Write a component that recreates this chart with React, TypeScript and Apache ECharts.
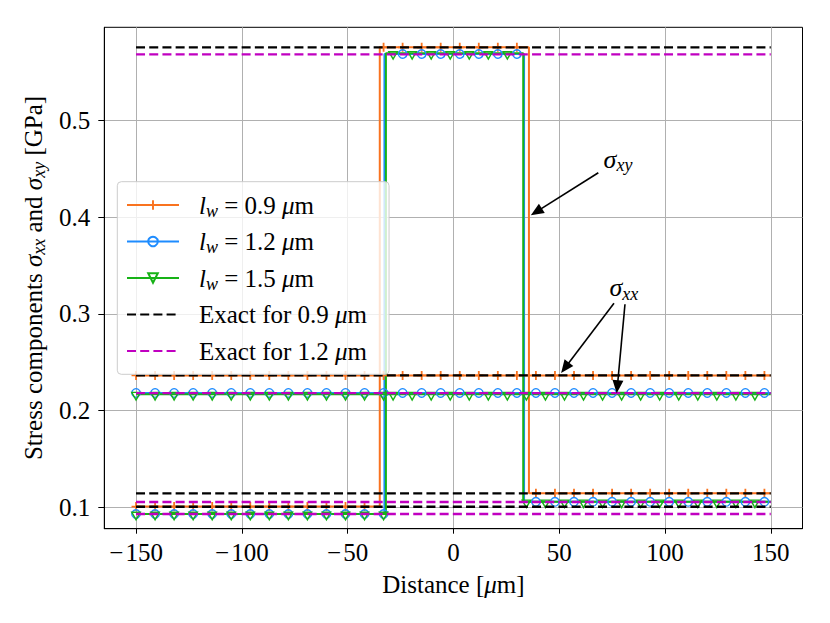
import React, { useEffect, useRef } from "react";
import * as echarts from "echarts";

// ---------- data ----------
const xTicks = [-150, -100, -50, 0, 50, 100, 150];
const yTicks = [0.1, 0.2, 0.3, 0.4, 0.5];
const xExtent = [-165, 165];
const yExtent = [0.0779, 0.5964];
const dataStart = -150;
const dataEnd = 150;

// x positions where markers are drawn (every 9th sample of the solution grid)
const markerX = [
  -150, -141, -132, -123, -114, -105, -96, -87, -78, -69, -60, -51, -42, -33,
  -24, -15, -6, 3, 12, 21, 30, 39, 48, 57, 66, 75, 84, 93, 102, 111, 120, 129,
  138, 147,
];
const greenMarkerX = [
  -150, -141, -132, -123, -114, -105, -96, -87, -78, -69, -60, -51, -42, -33,
  -28.5, -19.5, -10.5, -1.5, 7.5, 16.5, 25.5, 34.5, 43.5, 52.5, 61.5, 70.5,
  79.5, 88.5, 97.5, 106.5, 115.5, 124.5, 133.5, 142.5,
];

// sigma_xx (constant along the distance)
const sxx09 = 0.2364;
const sxx12 = 0.2183;
const sxx15 = 0.217;

// sigma_xy: [left level, middle level, right level] and the two jump positions
const sxy09 = [0.1008, 0.5757, 0.1145];
const sxy12 = [0.0931, 0.5688, 0.1057];
const sxy15 = [0.0931, 0.5695, 0.1057];
const jump09 = [-34.8, 35.7];
const jump12 = [-32.6, 33.4];
const jump15 = [-31.9, 33.0];

// exact solutions (horizontal dashed levels)
const exact09 = [0.5757, 0.2364, 0.1145, 0.1006];
const exact12 = [0.5685, 0.218, 0.1055, 0.0931];

// annotations: [tail x, tail y] -> [tip x, tip y]
const arrowTails = [
  [68.5, 0.446],
  [75.9, 0.311],
  [81.1, 0.31],
];
const arrowTips = [
  [36.6, 0.402],
  [50.9, 0.239],
  [77.2, 0.218],
];
const annotationText = ["xy", "xx"];
const annotationPos = [
  [71.0, 0.46],
  [73.8, 0.327],
];

const legendNames = ["lw09", "lw12", "lw15", "ex09", "ex12"];
const legendLabels: Record<string, string> = {
  lw09: "{i|l}{s|w} = 0.9 {i|μ}m",
  lw12: "{i|l}{s|w} = 1.2 {i|μ}m",
  lw15: "{i|l}{s|w} = 1.5 {i|μ}m",
  ex09: "Exact for 0.9 {i|μ}m",
  ex12: "Exact for 1.2 {i|μ}m",
};

// ---------- styling ----------
const FONT = "'Liberation Serif', 'Times New Roman', serif";
const FS = 25;
const LH = 29;
const ORANGE = "#F9731F";
const BLUE = "#1E8CFF";
const GREEN = "#17B217";
const MAGENTA = "#C000C0";
const BLACK = "#000000";
const PLUS = "path://M8,0H12V8H20V12H12V20H8V12H0V8H8Z";
const TRI_DOWN = "path://M0,0L20,0L10,17Z";

type Pt = { value: number[]; symbol?: string };

function flatLine(level: number, xs: number[]): Pt[] {
  const pts: Pt[] = xs.map((x) => ({ value: [x, level] }));
  pts.push({ value: [dataEnd, level], symbol: "none" });
  return pts;
}

function stepLine(levels: number[], jumps: number[], xs: number[]): Pt[] {
  const [lo, mid, ro] = levels;
  const [a, b] = jumps;
  const pts: Pt[] = [];
  if (xs[0] > dataStart) pts.push({ value: [dataStart, lo], symbol: "none" });
  xs.filter((x) => x < a).forEach((x) => pts.push({ value: [x, lo] }));
  pts.push({ value: [a, lo], symbol: "none" }, { value: [a, mid], symbol: "none" });
  xs.filter((x) => x >= a && x <= b).forEach((x) => pts.push({ value: [x, mid] }));
  pts.push({ value: [b, mid], symbol: "none" }, { value: [b, ro], symbol: "none" });
  xs.filter((x) => x > b).forEach((x) => pts.push({ value: [x, ro] }));
  pts.push({ value: [dataEnd, ro], symbol: "none" });
  return pts;
}

const richText = (size: number, lh: number) => ({
  i: { fontFamily: FONT, fontStyle: "italic", fontSize: size, lineHeight: lh, color: BLACK },
  s: {
    fontFamily: FONT,
    fontStyle: "italic",
    fontSize: Math.round(size * 0.7),
    lineHeight: lh - Math.round(size * 0.52),
    verticalAlign: "bottom",
    color: BLACK,
  },
});

function lwSeries(name: string, color: string, symbol: string, size: any, hollow: boolean, data: Pt[], offset: number[]) {
  return {
    type: "line",
    name,
    data,
    symbol,
    symbolSize: size,
    symbolOffset: offset,
    showSymbol: true,
    lineStyle: { color, width: 2 },
    itemStyle: hollow
      ? { color: "rgba(255,255,255,0)", borderColor: color, borderWidth: 1.4 }
      : { color, borderWidth: 0 },
    emphasis: { disabled: true },
    silent: true,
    z: 2,
  };
}

function exactSeries(name: string, color: string, level: number) {
  return {
    type: "line",
    name,
    data: [{ value: [dataStart, level] }, { value: [dataEnd, level] }],
    symbol: "circle",
    symbolSize: 0,
    showSymbol: false,
    lineStyle: { color, width: 2.3, type: [9, 4.2] },
    itemStyle: { color: "rgba(255,255,255,0)", borderWidth: 0 },
    emphasis: { disabled: true },
    silent: true,
    z: 3,
  };
}

export default function App() {
  const ref = useRef<HTMLDivElement>(null);

  useEffect(() => {
    if (!ref.current) return;
    const chart = echarts.init(ref.current, undefined, { renderer: "svg" });

    const series: any[] = [
      lwSeries("lw09", ORANGE, PLUS, 9, false, flatLine(sxx09, markerX), [0, 0]),
      lwSeries("lw09", ORANGE, PLUS, 9, false, stepLine(sxy09, jump09, markerX), [0, 0]),
      lwSeries("lw12", BLUE, "circle", 8.5, true, flatLine(sxx12, markerX), [0, 0]),
      lwSeries("lw12", BLUE, "circle", 8.5, true, stepLine(sxy12, jump12, markerX), [0, 0]),
      lwSeries("lw15", GREEN, TRI_DOWN, [8.5, 7.5], true, flatLine(sxx15, greenMarkerX), [0, 2]),
      lwSeries("lw15", GREEN, TRI_DOWN, [8.5, 7.5], true, stepLine(sxy15, jump15, greenMarkerX), [0, 2]),
      ...exact09.map((v) => exactSeries("ex09", BLACK, v)),
      ...exact12.map((v) => exactSeries("ex12", MAGENTA, v)),
      {
        type: "custom",
        name: "arrows",
        silent: true,
        z: 5,
        encode: { x: [0, 2], y: [1, 3] },
        data: arrowTails.map((t, i) => [t[0], t[1], arrowTips[i][0], arrowTips[i][1]]),
        renderItem: (params: any, api: any) => {
          const a = api.coord([api.value(0), api.value(1)]);
          const b = api.coord([api.value(2), api.value(3)]);
          const dx = b[0] - a[0];
          const dy = b[1] - a[1];
          const len = Math.hypot(dx, dy);
          const ux = dx / len;
          const uy = dy / len;
          const hl = 13;
          const hw = 5.5;
          const base = [b[0] - ux * hl, b[1] - uy * hl];
          return {
            type: "group",
            children: [
              {
                type: "line",
                shape: { x1: a[0], y1: a[1], x2: base[0] + ux * 2, y2: base[1] + uy * 2 },
                style: { stroke: BLACK, lineWidth: 1.6 },
              },
              {
                type: "polygon",
                shape: {
                  points: [
                    [b[0], b[1]],
                    [base[0] - uy * hw, base[1] + ux * hw],
                    [base[0] + uy * hw, base[1] - ux * hw],
                  ],
                },
                style: { fill: BLACK },
              },
            ],
          };
        },
      },
      {
        type: "custom",
        name: "labels",
        silent: true,
        z: 5,
        encode: { x: 0, y: 1 },
        data: annotationPos.map((p, i) => [p[0], p[1], i]),
        renderItem: (params: any, api: any) => {
          const p = api.coord([api.value(0), api.value(1)]);
          const idx = api.value(2);
          return {
            type: "text",
            x: p[0],
            y: p[1],
            style: {
              text: "{i|σ}{s|" + annotationText[idx] + "}",
              rich: richText(26, 30),
              align: "left",
              verticalAlign: "middle",
              fontFamily: FONT,
              fontSize: 26,
              fill: BLACK,
            },
          };
        },
      },
    ];

    const axisNameStyle = {
      fontFamily: FONT,
      fontSize: FS,
      lineHeight: LH,
      color: BLACK,
      rich: richText(FS, LH),
    };

    chart.setOption({
      animation: false,
      backgroundColor: "#ffffff",
      textStyle: { fontFamily: FONT },
      grid: {
        left: 104.3,
        top: 27.3,
        width: 698.2,
        height: 501.4,
        show: true,
        borderColor: BLACK,
        borderWidth: 1,
        backgroundColor: "transparent",
        containLabel: false,
        outerBoundsMode: "none",
      },
      xAxis: {
        type: "value",
        min: xExtent[0],
        max: xExtent[1],
        name: "Distance [{i|μ}m]",
        nameLocation: "middle",
        nameGap: 37,
        nameTextStyle: axisNameStyle,
        axisLine: { show: true, onZero: false, lineStyle: { color: BLACK, width: 1 } },
        axisTick: { show: true, inside: false, length: 5, customValues: xTicks, lineStyle: { color: BLACK, width: 1 } },
        axisLabel: {
          customValues: xTicks,
          margin: 11,
          fontFamily: FONT,
          fontSize: FS,
          color: BLACK,
          formatter: (v: number) => (v < 0 ? "\u2212\u200A" + Math.abs(v) : String(v)),
        },
        splitLine: { show: true, customValues: xTicks, lineStyle: { color: "#b0b0b0", width: 1 } },
      },
      yAxis: {
        type: "value",
        min: yExtent[0],
        max: yExtent[1],
        name: "Stress components {i|σ}{s|xx} and {i|σ}{s|xy} [GPa]",
        nameLocation: "middle",
        nameGap: 48,
        nameTextStyle: axisNameStyle,
        axisLine: { show: true, onZero: false, lineStyle: { color: BLACK, width: 1 } },
        axisTick: { show: true, inside: false, length: 6, customValues: yTicks, lineStyle: { color: BLACK, width: 1 } },
        axisLabel: {
          customValues: yTicks,
          margin: 14,
          fontFamily: FONT,
          fontSize: FS,
          color: BLACK,
          formatter: (v: number) => v.toFixed(1),
        },
        splitLine: { show: true, customValues: yTicks, lineStyle: { color: "#b0b0b0", width: 1 } },
      },
      legend: {
        data: legendNames,
        orient: "vertical",
        left: 117.3,
        top: 181.7,
        itemWidth: 52,
        itemHeight: 12,
        itemGap: 7.5,
        padding: [8.8, 22, 8.8, 8.7],
        backgroundColor: "rgba(255,255,255,0.8)",
        borderColor: "#cccccc",
        borderWidth: 1,
        borderRadius: 4,
        selectedMode: false,
        z: 10,
        formatter: (name: string) => legendLabels[name],
        textStyle: {
          fontFamily: FONT,
          fontSize: FS,
          lineHeight: LH,
          color: BLACK,
          padding: [0, 0, 0, 15],
          rich: richText(FS, LH),
        },
      },
      series,
    });

    return () => chart.dispose();
  }, []);

  return (
    <div
      ref={ref}
      style={{ position: "fixed", left: 0, top: 0, width: 830, height: 623, background: "#fff" }}
    />
  );
}
